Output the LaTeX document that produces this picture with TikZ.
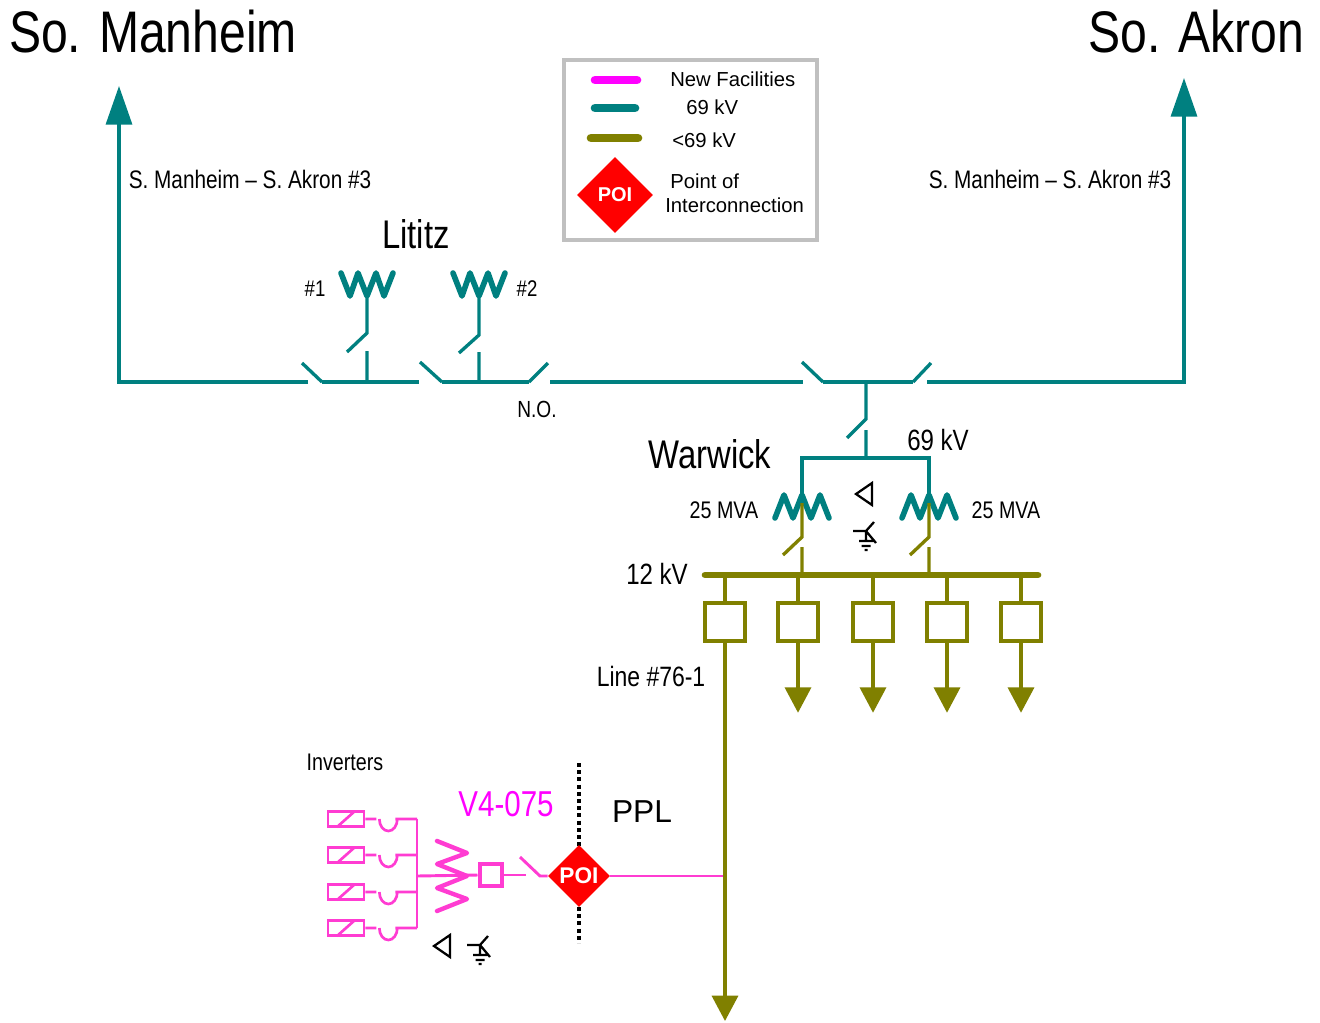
\documentclass[tikz,border=0pt]{standalone}
\usepackage{fontspec}
\setmainfont{Liberation Sans}
\newfontfamily\narrowfont[FakeStretch=0.82]{Liberation Sans}
\usepackage{tikz}
\usetikzlibrary{arrows.meta,shapes.geometric}
\definecolor{hvteal}{RGB}{0,128,128}
\definecolor{lvolive}{RGB}{128,128,0}
\definecolor{newfac}{RGB}{255,60,210}
\definecolor{legmag}{RGB}{255,0,255}
\definecolor{boxgray}{RGB}{192,192,192}
\newcommand{\fsz}[1]{\fontsize{#1}{#1}\selectfont}
\newcommand{\deltasym}[1]{\draw[sym,shift={#1}] (-8,0) -- (8,-11) -- (8,11) -- cycle;}
\newcommand{\wyegnd}[1]{\draw[sym,shift={#1}] (-13,0) -- (0,0) -- (8,-9) (0,0) -- (10,12) (0,0) -- (0,10)
  (-7,10) -- (7,10) (-4.5,15) -- (4.5,15) (-1.5,19) -- (1.5,19);}

\begin{document}
\begin{tikzpicture}
  [x=0.75pt,y=-0.75pt,
   hv/.style={draw=hvteal,line width=2.5pt},
   lv/.style={draw=lvolive,line width=2.5pt},
   nf/.style={draw=newfac,line width=2.2pt},
   coil/.style={line width=4.2pt,line join=round,line cap=round},
   sym/.style={draw=black,line width=1.7pt},
   lbl/.style={font=\narrowfont\fsz{#1},inner sep=0pt},
   leg/.style={font=\fsz{15.2pt},inner sep=0pt,anchor=west},
   poi/.style={diamond,fill=red,text=white,inner sep=0pt,font=\bfseries\fsz{#1}},
   uptip/.style={-{Triangle[length=29pt,width=19.5pt]}},
   dntip/.style={-{Triangle[length=19pt,width=19.5pt]}},
   feedbox/.style={draw=lvolive,line width=2.6pt,fill=white,minimum width=30pt,minimum height=28.5pt,inner sep=0pt},
   brkbox/.style={draw=newfac,line width=3pt,minimum size=16.5pt,inner sep=0pt},
   invbox/.style={draw=newfac,line width=2pt,minimum width=27pt,minimum height=11.25pt,inner sep=0pt}]

  \useasboundingbox (0,0) rectangle (1320,1022);

  % station names
  \node[lbl=44pt] (manheim) at (153,32) {So. Manheim};
  \node[lbl=44pt] (akron) at (1196,32) {So. Akron};
  \node[lbl=19pt] (linew) at (250,179) {S. Manheim – S. Akron \#3};
  \node[lbl=19pt] (linee) at (1050,179) {S. Manheim – S. Akron \#3};

  % legend
  \node[draw=boxgray,line width=3pt,minimum width=189.75pt,minimum height=135pt,inner sep=0pt] (legend) at (690.5,150) {};
  \draw[legmag,line width=6.5pt,line cap=round] (595,80) -- (637,80);
  \draw[hvteal,line width=6.5pt,line cap=round] (595,108) -- (635,108);
  \draw[lvolive,line width=6.5pt,line cap=round] (591,138) -- (638,138);
  \node[leg] (lnew) at (670,79) {New Facilities};
  \node[leg] (l69) at (686,107) {69 kV};
  \node[leg] (llow) at (672,140) {<69 kV};
  \node[poi=15pt,minimum size=57pt] (lpoi) at (615,195) {POI};
  \node[leg] (lpt) at (670,181) {Point of};
  \node[leg] (lic) at (665,205) {Interconnection};

  % 69 kV line
  \coordinate (wtip) at (119,86);
  \coordinate (wcorner) at (119,382);
  \coordinate (etip) at (1184,78);
  \coordinate (ecorner) at (1184,382);
  \coordinate (b1) at (308,382);
  \coordinate (b2) at (322,382);
  \coordinate (b3) at (419,382);
  \coordinate (b4) at (442,382);
  \coordinate (b5) at (529,382);
  \coordinate (b6) at (550,382);
  \coordinate (b7) at (803,382);
  \coordinate (b8) at (823,382);
  \coordinate (b9) at (913,382);
  \coordinate (b10) at (927,382);
  \draw[hv,uptip] (b1) -- (wcorner) -- (wtip);
  \draw[hv,uptip] (b10) -- (ecorner) -- (etip);
  \draw[hv] (b2) -- (b3) (b4) -- (b5) (b6) -- (b7) (b8) -- (b9);
  \draw[hv] (b2) -- ++(-20,-19) (b4) -- ++(-22,-20) (b5) -- ++(19,-19)
    (b8) -- ++(-21,-20) (b9) -- ++(18,-19);

  % Lititz
  \node[lbl=30pt] (lititz) at (416,234) {Lititz};
  \coordinate (t1) at (367,382);
  \coordinate (t2) at (479,382);
  \coordinate (x1) at (367,296);
  \coordinate (x2) at (479,296);
  \draw[hv] (t1) -- ++(0,-31) (x1) -- ++(0,37) -- ++(-20,19);
  \draw[hv] (t2) -- ++(0,-30) (x2) -- ++(0,39) -- ++(-20,18);
  \draw[hv,coil] (x1) ++(-26,-23) -- ++(9,23) -- ++(8,-23) -- ++(9,23) -- ++(9,-23) -- ++(8,23) -- ++(9,-23);
  \draw[hv,coil] (x2) ++(-26,-23) -- ++(9,23) -- ++(8,-23) -- ++(9,23) -- ++(9,-23) -- ++(8,23) -- ++(9,-23);
  \node[lbl=17pt] (n1) at (315,289) {\#1};
  \node[lbl=17pt] (n2) at (527,289) {\#2};
  \node[lbl=17.5pt] (no) at (537,409) {N.O.};

  % Warwick
  \node[lbl=30pt] (warwick) at (710,454) {Warwick};
  \node[lbl=22pt] (kv69) at (938,440) {69 kV};
  \coordinate (wt) at (866,382);
  \coordinate (wb) at (866,458);
  \coordinate (m1) at (802,495);
  \coordinate (m2) at (929,495);
  \coordinate (k1) at (802,575);
  \coordinate (k2) at (929,575);
  \draw[hv] (wt) -- ++(0,37) -- ++(-19,19) (wb) -- ++(0,-28);
  \draw[hv] (m1) |- (wb) -| (m2);
  \draw[hv,coil] (m1) ++(-27,23) -- ++(9,-23) -- ++(9,23) -- ++(9,-23) -- ++(9,23) -- ++(9,-23) -- ++(9,23);
  \draw[hv,coil] (m2) ++(-27,23) -- ++(9,-23) -- ++(9,23) -- ++(9,-23) -- ++(9,23) -- ++(9,-23) -- ++(9,23);
  \draw[lv] (m1) ++(0,8) -- ++(0,34) -- ++(-19,18) (k1) -- ++(0,-28);
  \draw[lv] (m2) ++(0,8) -- ++(0,34) -- ++(-19,18) (k2) -- ++(0,-28);
  \node[lbl=18pt] (mva1) at (724,510) {25 MVA};
  \node[lbl=18pt] (mva2) at (1006,510) {25 MVA};
  \deltasym{(864,494)}
  \wyegnd{(866,531)}

  % 12 kV bus and feeders
  \node[lbl=22pt] (kv12) at (657,574) {12 kV};
  \coordinate (kw) at (705,575);
  \coordinate (ke) at (1038,575);
  \draw[lv,line width=5pt,line cap=round] (kw) -- (ke);
  \node[feedbox] (f1) at (725,622) {};
  \draw[lv] (f1.north) -- (f1.north |- kw);
  \foreach \x [count=\i from 2] in {798,873,947,1021} {
    \node[feedbox] (f\i) at (\x,622) {};
    \draw[lv] (f\i.north) -- (f\i.north |- kw);
    \draw[lv,dntip] (f\i.south) -- ++(0,70);
  }
  \node[lbl=21pt] (line76) at (651,676) {Line \#76-1};

  % V4-075 interconnection
  \node[lbl=18pt] (inverters) at (345,762) {Inverters};
  \node[lbl=27pt,text=legmag] (v4) at (506,804) {V4-075};
  \node[font=\fsz{23.8pt},inner sep=0pt] (ppl) at (642,812) {PPL};
  \draw[black,line width=3pt,dash pattern=on 3pt off 2.4pt] (579,763) -- (579,943);
  \node[poi=17pt,minimum size=46.5pt] (poi) at (579,876) {POI};
  \coordinate (j76) at (725,876);
  \coordinate (lend) at (725,1021);
  \draw[nf] (poi.east) -- (j76);
  \draw[lv,dntip] (f1.south) -- (lend);
  \coordinate (swb) at (540,876);
  \draw[nf] (poi.west) -- (swb) -- ++(-20,-19);
  \node[brkbox] (brk) at (490.5,875) {};
  \draw[nf] (brk.east) -- ++(22,0);
  \coordinate (ib) at (417,876);
  \coordinate (zc) at (467,876);
  \draw[nf] (ib) -- (brk.west);
  \draw[nf,coil,line width=3.3pt] (zc) ++(-30,-35) -- ++(30,12) -- ++(-30,11) -- ++(30,12) -- ++(-30,12) -- ++(30,11) -- ++(-30,12);
  \foreach \y [count=\i] in {819,855,892,928} {
    \node[invbox] (inv\i) at (346,\y) {};
    \draw[nf,line width=2pt] (inv\i) ++(-9,8) -- ++(18,-16);
    \draw[nf,line width=2pt] (inv\i.east) -- ++(11,0) ++(3,0) arc[start angle=180,end angle=0,x radius=9,y radius=12]
      ++(-2,0) -- (inv\i.east -| ib);
  }
  \draw[nf] (inv1.east -| ib) -- (inv4.east -| ib);
  \deltasym{(442,946)}
  \wyegnd{(480,945)}
\end{tikzpicture}
\end{document}
